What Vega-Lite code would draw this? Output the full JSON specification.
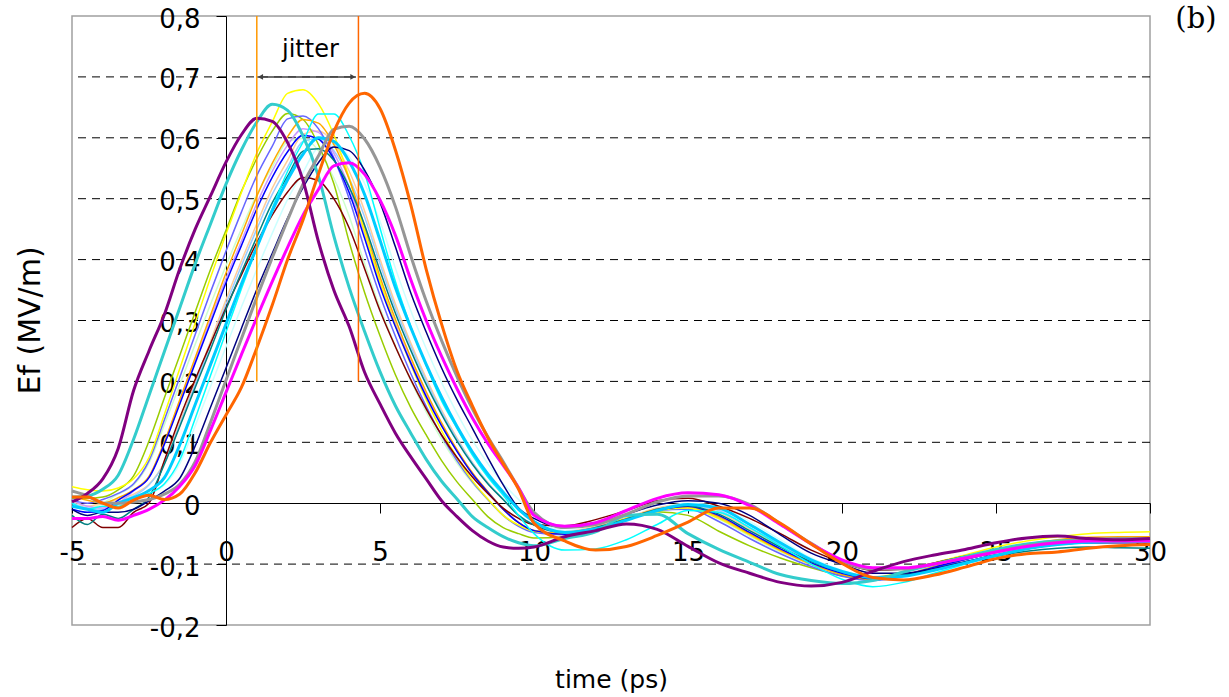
{
"$schema": "https://vega.github.io/schema/vega-lite/v6.json",
"width": 1078, "height": 609,
"autosize": {"type": "none"},
"padding": {"left": 72, "top": 16, "right": 79, "bottom": 72},
"background": "white",
"config": {"view": {"stroke": "#a0a0a0", "strokeWidth": 1.5}, "axis": {"labelFont": "DejaVu Sans", "titleFont": "DejaVu Sans"}},
"datasets": {
"curves": [
{"x":-5,"a":0.002,"b":0.01,"c":0.008,"d":0.005,"e":0.027,"f":0.01,"g":-0.01,"h":0.005,"i":0,"j":0.005,"k":-0.04,"l":-0.02,"m":-0.005,"n":0,"o":0,"p":0,"q":-0.01,"r":-0.025,"s":0.02,"t":0.01},
{"x":-4.5,"a":0.016,"b":0.012,"c":0.008,"d":0,"e":0.022,"f":0.005,"g":-0.015,"h":-0.005,"i":-0.01,"j":-0.005,"k":-0.025,"l":-0.035,"m":-0.01,"n":-0.008,"o":-0.01,"p":-0.005,"q":-0.02,"r":-0.025,"s":0.012,"t":0.01},
{"x":-4,"a":0.04,"b":0.023,"c":0.01,"d":0.006,"e":0.02,"f":0,"g":-0.012,"h":0,"i":0,"j":-0.008,"k":-0.04,"l":-0.018,"m":-0.015,"n":-0.01,"o":-0.005,"p":-0.01,"q":-0.015,"r":-0.022,"s":0,"t":0},
{"x":-3.5,"a":0.09,"b":0.046,"c":0.022,"d":0.016,"e":0.025,"f":0.009,"g":0.005,"h":0.006,"i":0.015,"j":0,"k":-0.04,"l":-0.025,"m":0,"n":0.002,"o":-0.005,"p":0,"q":-0.015,"r":-0.028,"s":0,"t":-0.008},
{"x":-3,"a":0.185,"b":0.105,"c":0.045,"d":0.032,"e":0.04,"f":0.022,"g":0.021,"h":0.015,"i":0.03,"j":0.02,"k":-0.015,"l":-0.01,"m":0.009,"n":0.012,"o":0.006,"p":0.006,"q":-0.01,"r":-0.02,"s":0.002,"t":0.005},
{"x":-2.5,"a":0.25,"b":0.177,"c":0.102,"d":0.07,"e":0.075,"f":0.044,"g":0.042,"h":0.031,"i":0.066,"j":0.043,"k":0,"l":0.01,"m":0.021,"n":0.03,"o":0.016,"p":0.015,"q":0.004,"r":-0.01,"s":0.006,"t":0.013},
{"x":-2,"a":0.31,"b":0.249,"c":0.173,"d":0.137,"e":0.146,"f":0.101,"g":0.097,"h":0.067,"i":0.129,"j":0.099,"k":0.07,"l":0.064,"m":0.042,"n":0.066,"o":0.032,"p":0.03,"q":0.02,"r":0.005,"s":0.015,"t":0.006},
{"x":-1.5,"a":0.385,"b":0.321,"c":0.243,"d":0.207,"e":0.221,"f":0.17,"g":0.163,"h":0.132,"i":0.195,"j":0.166,"k":0.14,"l":0.126,"m":0.096,"n":0.129,"o":0.071,"p":0.065,"q":0.041,"r":0.028,"s":0.031,"t":0.015},
{"x":-1,"a":0.45,"b":0.393,"c":0.314,"d":0.277,"e":0.296,"f":0.239,"g":0.23,"h":0.199,"i":0.261,"j":0.233,"k":0.203,"l":0.19,"m":0.162,"n":0.195,"o":0.139,"p":0.127,"q":0.094,"r":0.062,"s":0.068,"t":0.05},
{"x":-0.5,"a":0.505,"b":0.459,"c":0.384,"d":0.347,"e":0.371,"f":0.309,"g":0.296,"h":0.266,"i":0.327,"j":0.302,"k":0.262,"l":0.253,"m":0.228,"n":0.261,"o":0.21,"p":0.192,"q":0.158,"r":0.12,"s":0.133,"t":0.1},
{"x":0,"a":0.56,"b":0.524,"c":0.448,"d":0.414,"e":0.442,"f":0.378,"g":0.362,"h":0.334,"i":0.39,"j":0.369,"k":0.321,"l":0.318,"m":0.294,"n":0.327,"o":0.281,"p":0.257,"q":0.222,"r":0.182,"s":0.202,"t":0.145},
{"x":0.5,"a":0.605,"b":0.58,"c":0.512,"d":0.478,"e":0.51,"f":0.441,"g":0.423,"h":0.398,"i":0.45,"j":0.43,"k":0.375,"l":0.379,"m":0.36,"n":0.39,"o":0.352,"p":0.322,"q":0.287,"r":0.244,"s":0.27,"t":0.19},
{"x":1,"a":0.632,"b":0.626,"c":0.566,"d":0.538,"e":0.575,"f":0.504,"g":0.483,"h":0.459,"i":0.507,"j":0.492,"k":0.428,"l":0.437,"m":0.42,"n":0.45,"o":0.419,"p":0.384,"q":0.351,"r":0.305,"s":0.338,"t":0.255},
{"x":1.5,"a":0.627,"b":0.655,"c":0.611,"d":0.586,"e":0.626,"f":0.558,"g":0.535,"h":0.517,"i":0.552,"j":0.545,"k":0.473,"l":0.493,"m":0.48,"n":0.507,"o":0.484,"p":0.443,"q":0.41,"r":0.364,"s":0.403,"t":0.325},
{"x":2,"a":0.592,"b":0.645,"c":0.64,"d":0.631,"e":0.673,"f":0.602,"g":0.577,"h":0.563,"i":0.594,"j":0.588,"k":0.511,"l":0.537,"m":0.531,"n":0.552,"o":0.545,"p":0.499,"q":0.468,"r":0.42,"s":0.465,"t":0.4},
{"x":2.5,"a":0.53,"b":0.603,"c":0.63,"d":0.636,"e":0.679,"f":0.63,"g":0.604,"h":0.606,"i":0.599,"j":0.615,"k":0.535,"l":0.578,"m":0.573,"n":0.594,"o":0.593,"p":0.543,"q":0.518,"r":0.473,"s":0.524,"t":0.465},
{"x":3,"a":0.43,"b":0.537,"c":0.589,"d":0.615,"e":0.656,"f":0.624,"g":0.598,"h":0.611,"i":0.579,"j":0.609,"k":0.53,"l":0.582,"m":0.6,"n":0.599,"o":0.639,"p":0.584,"q":0.559,"r":0.515,"s":0.57,"t":0.54},
{"x":3.5,"a":0.35,"b":0.439,"c":0.525,"d":0.567,"e":0.605,"f":0.589,"g":0.565,"h":0.591,"i":0.534,"j":0.575,"k":0.5,"l":0.563,"m":0.594,"n":0.579,"o":0.639,"p":0.589,"q":0.585,"r":0.554,"s":0.614,"t":0.61},
{"x":4,"a":0.29,"b":0.354,"c":0.429,"d":0.5,"e":0.534,"f":0.532,"g":0.51,"h":0.545,"i":0.471,"j":0.519,"k":0.452,"l":0.519,"m":0.561,"n":0.534,"o":0.603,"p":0.569,"q":0.579,"r":0.559,"s":0.619,"t":0.657},
{"x":4.5,"a":0.215,"b":0.282,"c":0.346,"d":0.417,"e":0.445,"f":0.454,"g":0.435,"h":0.48,"i":0.393,"j":0.443,"k":0.385,"l":0.457,"m":0.507,"n":0.47,"o":0.542,"p":0.525,"q":0.547,"r":0.54,"s":0.598,"t":0.673},
{"x":5,"a":0.163,"b":0.216,"c":0.275,"d":0.341,"e":0.364,"f":0.372,"g":0.356,"h":0.401,"i":0.321,"j":0.363,"k":0.316,"l":0.382,"m":0.432,"n":0.393,"o":0.452,"p":0.463,"q":0.494,"r":0.498,"s":0.552,"t":0.648},
{"x":5.5,"a":0.115,"b":0.16,"c":0.211,"d":0.274,"e":0.292,"f":0.302,"g":0.29,"h":0.327,"i":0.258,"j":0.295,"k":0.257,"l":0.312,"m":0.354,"n":0.32,"o":0.364,"p":0.386,"q":0.421,"r":0.44,"s":0.487,"t":0.58},
{"x":6,"a":0.076,"b":0.115,"c":0.157,"d":0.213,"e":0.228,"f":0.239,"g":0.23,"h":0.263,"i":0.201,"j":0.233,"k":0.203,"l":0.251,"m":0.288,"n":0.258,"o":0.29,"p":0.316,"q":0.345,"r":0.367,"s":0.406,"t":0.49},
{"x":6.5,"a":0.04,"b":0.072,"c":0.112,"d":0.159,"e":0.17,"f":0.183,"g":0.175,"h":0.205,"i":0.15,"j":0.179,"k":0.155,"l":0.195,"m":0.228,"n":0.201,"o":0.226,"p":0.254,"q":0.281,"r":0.3,"s":0.332,"t":0.384},
{"x":7,"a":0.004,"b":0.036,"c":0.07,"d":0.111,"e":0.119,"f":0.132,"g":0.127,"h":0.153,"i":0.105,"j":0.129,"k":0.112,"l":0.146,"m":0.174,"n":0.15,"o":0.168,"p":0.198,"q":0.222,"r":0.241,"s":0.267,"t":0.294},
{"x":7.5,"a":-0.022,"b":0.007,"c":0.035,"d":0.07,"e":0.075,"f":0.088,"g":0.085,"h":0.107,"i":0.066,"j":0.086,"k":0.075,"l":0.102,"m":0.126,"n":0.105,"o":0.123,"p":0.148,"q":0.17,"r":0.188,"s":0.208,"t":0.217},
{"x":8,"a":-0.045,"b":-0.022,"c":0.006,"d":0.035,"e":0.037,"f":0.05,"g":0.048,"h":0.067,"i":0.033,"j":0.049,"k":0.043,"l":0.064,"m":0.084,"n":0.066,"o":0.079,"p":0.103,"q":0.123,"r":0.14,"s":0.155,"t":0.16},
{"x":8.5,"a":-0.062,"b":-0.04,"c":-0.022,"d":0.006,"e":0.007,"f":0.019,"g":0.018,"h":0.034,"i":0.006,"j":0.019,"k":0.016,"l":0.032,"m":0.048,"n":0.033,"o":0.043,"p":0.065,"q":0.075,"r":0.098,"s":0.109,"t":0.108},
{"x":9,"a":-0.072,"b":-0.055,"c":-0.04,"d":-0.02,"e":-0.02,"f":-0.01,"g":-0.01,"h":0.006,"i":-0.02,"j":-0.01,"k":-0.008,"l":0.006,"m":0.018,"n":0.006,"o":0.013,"p":0.032,"q":0.03,"r":0.062,"s":0.068,"t":0.065},
{"x":9.5,"a":-0.074,"b":-0.065,"c":-0.05,"d":-0.038,"e":-0.036,"f":-0.032,"g":-0.032,"h":-0.02,"i":-0.037,"j":-0.032,"k":-0.025,"l":-0.02,"m":-0.01,"n":-0.02,"o":-0.02,"p":0.006,"q":-0.008,"r":0.025,"s":0.025,"t":0.023},
{"x":10,"a":-0.072,"b":-0.07,"c":-0.057,"d":-0.048,"e":-0.046,"f":-0.045,"g":-0.045,"h":-0.036,"i":-0.047,"j":-0.045,"k":-0.035,"l":-0.036,"m":-0.03,"n":-0.035,"o":-0.05,"p":-0.02,"q":-0.025,"r":-0.02,"s":-0.015,"t":-0.033},
{"x":11,"a":-0.055,"b":-0.058,"c":-0.055,"d":-0.052,"e":-0.05,"f":-0.05,"g":-0.051,"h":-0.047,"i":-0.05,"j":-0.05,"k":-0.037,"l":-0.048,"m":-0.048,"n":-0.05,"o":-0.077,"p":-0.045,"q":-0.04,"r":-0.038,"s":-0.04,"t":-0.062},
{"x":12,"a":-0.045,"b":-0.047,"c":-0.043,"d":-0.042,"e":-0.04,"f":-0.041,"g":-0.043,"h":-0.038,"i":-0.04,"j":-0.042,"k":-0.027,"l":-0.04,"m":-0.042,"n":-0.043,"o":-0.075,"p":-0.038,"q":-0.035,"r":-0.032,"s":-0.035,"t":-0.077},
{"x":13,"a":-0.034,"b":-0.02,"c":-0.028,"d":-0.026,"e":-0.025,"f":-0.026,"g":-0.027,"h":-0.024,"i":-0.025,"j":-0.027,"k":-0.012,"l":-0.026,"m":-0.028,"n":-0.028,"o":-0.06,"p":-0.024,"q":-0.018,"r":-0.012,"s":-0.018,"t":-0.071},
{"x":14,"a":-0.043,"b":-0.018,"c":-0.014,"d":-0.012,"e":-0.012,"f":-0.01,"g":-0.012,"h":-0.008,"i":-0.01,"j":-0.012,"k":0.004,"l":-0.01,"m":-0.012,"n":-0.012,"o":-0.035,"p":-0.008,"q":-0.003,"r":0.008,"s":0.002,"t":-0.053},
{"x":15,"a":-0.071,"b":-0.05,"c":-0.02,"d":-0.01,"e":-0.008,"f":-0.006,"g":-0.005,"h":-0.002,"i":-0.008,"j":-0.007,"k":0.008,"l":-0.004,"m":-0.002,"n":-0.004,"o":-0.012,"p":0,"q":0.004,"r":0.017,"s":0.012,"t":-0.031},
{"x":16,"a":-0.098,"b":-0.076,"c":-0.046,"d":-0.03,"e":-0.025,"f":-0.022,"g":-0.02,"h":-0.015,"i":-0.026,"j":-0.024,"k":-0.005,"l":-0.018,"m":-0.008,"n":-0.012,"o":-0.015,"p":-0.005,"q":0,"r":0.014,"s":0.012,"t":-0.008},
{"x":17,"a":-0.115,"b":-0.097,"c":-0.07,"d":-0.058,"e":-0.052,"f":-0.05,"g":-0.048,"h":-0.042,"i":-0.054,"j":-0.052,"k":-0.025,"l":-0.045,"m":-0.035,"n":-0.04,"o":-0.04,"p":-0.03,"q":-0.02,"r":-0.004,"s":-0.002,"t":-0.008},
{"x":18,"a":-0.13,"b":-0.117,"c":-0.09,"d":-0.083,"e":-0.078,"f":-0.077,"g":-0.075,"h":-0.07,"i":-0.08,"j":-0.078,"k":-0.05,"l":-0.072,"m":-0.065,"n":-0.068,"o":-0.07,"p":-0.06,"q":-0.052,"r":-0.035,"s":-0.034,"t":-0.033},
{"x":19,"a":-0.136,"b":-0.127,"c":-0.106,"d":-0.104,"e":-0.1,"f":-0.1,"g":-0.098,"h":-0.095,"i":-0.101,"j":-0.1,"k":-0.077,"l":-0.096,"m":-0.093,"n":-0.095,"o":-0.1,"p":-0.09,"q":-0.082,"r":-0.067,"s":-0.066,"t":-0.067},
{"x":20,"a":-0.13,"b":-0.132,"c":-0.119,"d":-0.12,"e":-0.116,"f":-0.117,"g":-0.115,"h":-0.113,"i":-0.117,"j":-0.116,"k":-0.097,"l":-0.113,"m":-0.112,"n":-0.114,"o":-0.125,"p":-0.11,"q":-0.1,"r":-0.093,"s":-0.095,"t":-0.099},
{"x":21,"a":-0.112,"b":-0.127,"c":-0.126,"d":-0.127,"e":-0.122,"f":-0.125,"g":-0.124,"h":-0.123,"i":-0.125,"j":-0.124,"k":-0.11,"l":-0.121,"m":-0.122,"n":-0.124,"o":-0.137,"p":-0.122,"q":-0.115,"r":-0.106,"s":-0.108,"t":-0.122},
{"x":22,"a":-0.096,"b":-0.113,"c":-0.118,"d":-0.12,"e":-0.112,"f":-0.118,"g":-0.118,"h":-0.118,"i":-0.117,"j":-0.117,"k":-0.108,"l":-0.118,"m":-0.12,"n":-0.12,"o":-0.13,"p":-0.12,"q":-0.115,"r":-0.106,"s":-0.108,"t":-0.126},
{"x":23,"a":-0.085,"b":-0.1,"c":-0.105,"d":-0.106,"e":-0.098,"f":-0.104,"g":-0.105,"h":-0.105,"i":-0.104,"j":-0.104,"k":-0.098,"l":-0.108,"m":-0.11,"n":-0.108,"o":-0.115,"p":-0.11,"q":-0.107,"r":-0.1,"s":-0.1,"t":-0.118},
{"x":24,"a":-0.076,"b":-0.088,"c":-0.092,"d":-0.093,"e":-0.085,"f":-0.09,"g":-0.092,"h":-0.092,"i":-0.09,"j":-0.091,"k":-0.087,"l":-0.097,"m":-0.098,"n":-0.096,"o":-0.1,"p":-0.098,"q":-0.096,"r":-0.09,"s":-0.09,"t":-0.105},
{"x":25,"a":-0.065,"b":-0.076,"c":-0.08,"d":-0.08,"e":-0.072,"f":-0.077,"g":-0.08,"h":-0.08,"i":-0.078,"j":-0.079,"k":-0.077,"l":-0.087,"m":-0.086,"n":-0.084,"o":-0.086,"p":-0.086,"q":-0.085,"r":-0.08,"s":-0.08,"t":-0.091},
{"x":26,"a":-0.057,"b":-0.067,"c":-0.07,"d":-0.07,"e":-0.062,"f":-0.067,"g":-0.07,"h":-0.07,"i":-0.068,"j":-0.069,"k":-0.068,"l":-0.079,"m":-0.075,"n":-0.074,"o":-0.075,"p":-0.076,"q":-0.075,"r":-0.071,"s":-0.07,"t":-0.083},
{"x":27,"a":-0.054,"b":-0.062,"c":-0.064,"d":-0.063,"e":-0.055,"f":-0.06,"g":-0.064,"h":-0.063,"i":-0.062,"j":-0.062,"k":-0.062,"l":-0.074,"m":-0.068,"n":-0.066,"o":-0.068,"p":-0.068,"q":-0.068,"r":-0.065,"s":-0.064,"t":-0.08},
{"x":28,"a":-0.058,"b":-0.061,"c":-0.06,"d":-0.06,"e":-0.05,"f":-0.056,"g":-0.062,"h":-0.06,"i":-0.058,"j":-0.058,"k":-0.06,"l":-0.072,"m":-0.064,"n":-0.062,"o":-0.065,"p":-0.064,"q":-0.065,"r":-0.062,"s":-0.06,"t":-0.074},
{"x":29,"a":-0.06,"b":-0.062,"c":-0.06,"d":-0.059,"e":-0.048,"f":-0.055,"g":-0.063,"h":-0.06,"i":-0.057,"j":-0.057,"k":-0.06,"l":-0.073,"m":-0.063,"n":-0.061,"o":-0.064,"p":-0.062,"q":-0.065,"r":-0.062,"s":-0.058,"t":-0.07},
{"x":30,"a":-0.058,"b":-0.062,"c":-0.06,"d":-0.058,"e":-0.047,"f":-0.055,"g":-0.062,"h":-0.06,"i":-0.057,"j":-0.057,"k":-0.06,"l":-0.074,"m":-0.063,"n":-0.061,"o":-0.064,"p":-0.062,"q":-0.065,"r":-0.062,"s":-0.058,"t":-0.068}
],
"grid": [{"g":-0.1},{"g":0.1},{"g":0.2},{"g":0.3},{"g":0.4},{"g":0.5},{"g":0.6},{"g":0.7}]
},
"layer": [
{
"data": {"name": "grid"},
"mark": {"type": "rule", "color": "black", "strokeWidth": 1, "strokeDash": [8, 6]},
"encoding": {
"y": {"field": "g", "type": "quantitative", "scale": {"domain": [-0.2, 0.8], "nice": false, "zero": false},
"axis": {"orient": "left", "offset": -154, "values": [-0.2,-0.1,0,0.1,0.2,0.3,0.4,0.5,0.6,0.7,0.8], "grid": false,
"domainColor": "black", "domainWidth": 1, "tickColor": "black", "tickWidth": 1, "tickSize": 10,
"labelFontSize": 26, "labelColor": "black", "labelPadding": 16, "labelOffset": 3, "labelBaseline": "middle", "labelOverlap": false,
"labelExpr": "datum.value == 0 ? '0' : replace(toString(datum.value), '.', ',')",
"title": "Ef (MV/m)", "titleFontSize": 30, "titleFontWeight": "normal", "titleColor": "black",
"titleAngle": 270, "titleX": -196, "titleY": 304, "titleBaseline": "middle", "titleAlign": "center"}}
}
},
{
"data": {"name": "curves"},
"transform": [{"fold": ["i","p","h","n","j","c","d","e","f","g","k","l","o","q"], "as": ["s", "v"]}],
"mark": {"type": "line", "strokeWidth": 1.5, "interpolate": "monotone"},
"encoding": {
"x": {"field": "x", "type": "quantitative", "scale": {"domain": [-5, 30], "nice": false, "zero": false},
"axis": {"orient": "bottom", "offset": -122, "values": [-5,0,5,10,15,20,25,30], "grid": false,
"domainColor": "black", "domainWidth": 1, "tickColor": "black", "tickWidth": 1, "tickSize": 10,
"labelFontSize": 26, "labelColor": "black", "labelPadding": 26, "labelFlush": false, "labelOverlap": false,
"labelExpr": "toString(datum.value)",
"title": "time (ps)", "titleFontSize": 25, "titleFontWeight": "normal", "titleColor": "black",
"titleX": 539, "titleY": 184, "titleBaseline": "alphabetic", "titleAlign": "center"}},
"y": {"field": "v", "type": "quantitative"},
"color": {"field": "s", "type": "nominal", "legend": null,
"scale": {"domain": ["a","b","c","d","e","f","g","h","i","j","k","l","m","n","o","p","q","r","s","t"],
"range": ["#800080","#33CCCC","#99CC00","#6666FF","#FFFF00","#FFAA00","#0000FF","#FFCC99","#CCFFCC","#CC99FF","#800000","#008080","#00CCFF","#99CCFF","#00FFFF","#CCFFFF","#000080","#FF00FF","#969696","#FF6600"]}}
}
},
{
"data": {"name": "curves"},
"transform": [{"fold": ["m","b","s","r","a","t"], "as": ["s", "v"]}],
"mark": {"type": "line", "strokeWidth": 3, "interpolate": "monotone"},
"encoding": {
"x": {"field": "x", "type": "quantitative"},
"y": {"field": "v", "type": "quantitative"},
"color": {"field": "s", "type": "nominal", "legend": null}
}
},
{
"data": {"values": [{}]},
"mark": {"type": "rule", "color": "#FF9900", "strokeWidth": 1.5},
"encoding": {"x": {"datum": 1.0, "type": "quantitative"}, "y": {"datum": 0.2, "type": "quantitative"}, "y2": {"datum": 0.8}}
},
{
"data": {"values": [{}]},
"mark": {"type": "rule", "color": "#FF6600", "strokeWidth": 1.5},
"encoding": {"x": {"datum": 4.3, "type": "quantitative"}, "y": {"datum": 0.2, "type": "quantitative"}, "y2": {"datum": 0.8}}
},
{
"data": {"values": [{}]},
"mark": {"type": "rule", "color": "#404040", "strokeWidth": 1.5},
"encoding": {"x": {"datum": 1.02, "type": "quantitative"}, "x2": {"datum": 4.22}, "y": {"datum": 0.7, "type": "quantitative"}}
},
{
"data": {"values": [{}]},
"mark": {"type": "point", "shape": "triangle-left", "filled": true, "color": "#404040", "size": 35, "opacity": 1},
"encoding": {"x": {"datum": 1.12, "type": "quantitative"}, "y": {"datum": 0.7, "type": "quantitative"}}
},
{
"data": {"values": [{}]},
"mark": {"type": "point", "shape": "triangle-right", "filled": true, "color": "#404040", "size": 35, "opacity": 1},
"encoding": {"x": {"datum": 4.12, "type": "quantitative"}, "y": {"datum": 0.7, "type": "quantitative"}}
},
{
"data": {"values": [{}]},
"mark": {"type": "text", "text": "jitter", "font": "DejaVu Sans", "fontSize": 24, "color": "black", "align": "center", "baseline": "alphabetic"},
"encoding": {"x": {"datum": 2.74, "type": "quantitative"}, "y": {"datum": 0.732, "type": "quantitative"}}
},
{
"data": {"values": [{}]},
"mark": {"type": "text", "text": "(b)", "font": "DejaVu Serif", "fontSize": 29, "color": "black", "align": "right", "baseline": "alphabetic", "clip": false},
"encoding": {"x": {"datum": 32.16, "type": "quantitative"}, "y": {"datum": 0.78, "type": "quantitative"}}
}
]
}
